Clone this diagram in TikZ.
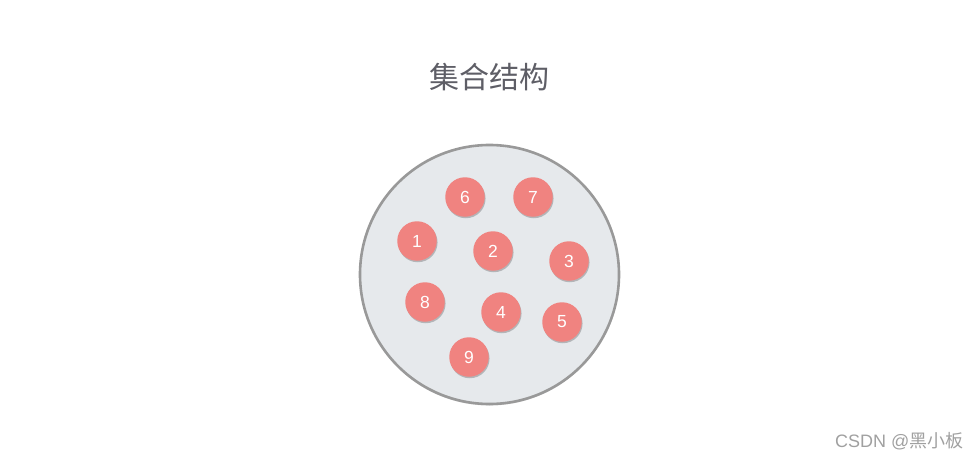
\documentclass[tikz,border=0pt]{standalone}
\usepackage{fontspec}
\setmainfont{Liberation Sans}
\newfontfamily\cjk{Noto Sans CJK SC}
\usetikzlibrary{shadows}
\definecolor{titlegray}{HTML}{5E5E66}
\definecolor{setfill}{HTML}{E6E9EC}
\definecolor{setborder}{HTML}{999999}
\definecolor{elemred}{HTML}{F08380}
\definecolor{markgray}{HTML}{A0A0A0}
\tikzset{
  setcircle/.style={circle, draw=setborder, line width=2.6pt, fill=setfill, minimum size=259pt, inner sep=0pt,
    drop shadow={shadow xshift=0pt, shadow yshift=-1.5pt, opacity=0.15, fill=black}},
  elem/.style={circle, fill=elemred, minimum size=39.5pt, inner sep=0pt, text=white, font=\fontsize{17.5}{17.5}\selectfont,
    drop shadow={shadow xshift=0.8pt, shadow yshift=-1.5pt, opacity=0.22, fill=black}},
  titletext/.style={text=titlegray, font=\cjk\fontsize{30}{30}\selectfont},
  marktext/.style={text=markgray, font=\fontsize{18}{18}\selectfont, anchor=east}
}
\begin{document}
\begin{tikzpicture}[x=1pt,y=-1pt]
\useasboundingbox (0,0) rectangle (980,460);
\node[titletext] (title) at (489,77) {集合结构};
\node[setcircle] (set) at (489.5,274.5) {};
\node[elem] (e6) at (465,197) {6};
\node[elem] (e7) at (533,197) {7};
\node[elem] (e1) at (417,241) {1};
\node[elem] (e2) at (493,251) {2};
\node[elem] (e3) at (569,261) {3};
\node[elem] (e8) at (425,302) {8};
\node[elem] (e4) at (501,312) {4};
\node[elem] (e5) at (562,322) {5};
\node[elem] (e9) at (469,357) {9};
\node[marktext] (mark) at (967,441) {CSDN @{\cjk 黑小板}};
\end{tikzpicture}
\end{document}
